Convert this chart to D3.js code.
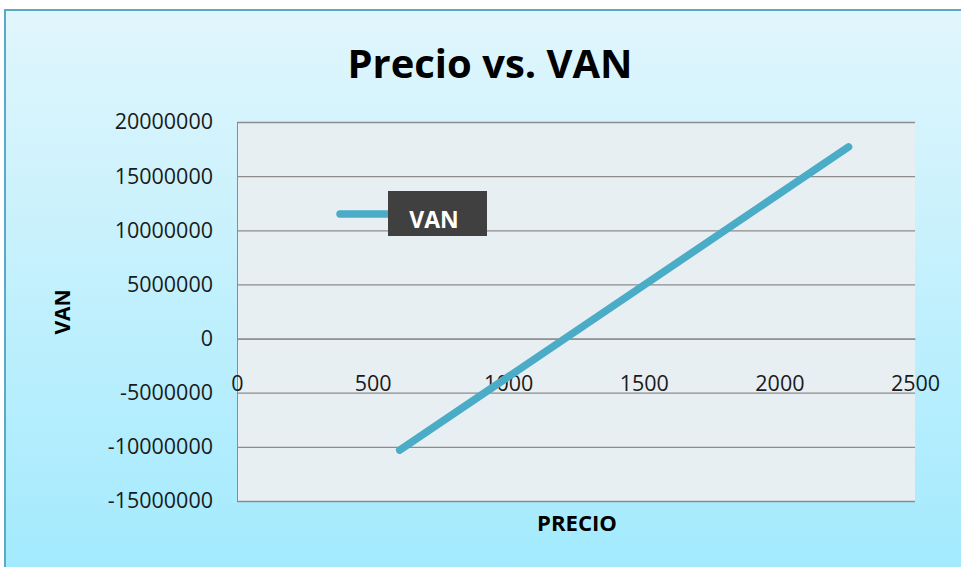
<!DOCTYPE html>
<html>
  <head>
    <meta charset="utf-8">
    <title>Precio vs. VAN</title>
    <script src="https://cdn.jsdelivr.net/npm/d3@7"></script>
    <style>
      body { margin: 0; background: #fff; }
      text { font-family: "Open Sans", "DejaVu Sans", sans-serif; }
    </style>
  </head>
  <body>
    <div class="chart"></div>
    <script>
    // values
    var precio = [600, 2255];
    var van = [-10300000, 17700000];
    var xTicks = [0, 500, 1000, 1500, 2000, 2500];
    var yTicks = [20000000, 15000000, 10000000, 5000000, 0, -5000000, -10000000, -15000000];
    var seriesName = "VAN";

    var W = 961, H = 567;
    var plot = {left: 237, right: 915, top: 122, bottom: 501};

    var svg = d3.select(".chart").append("svg").attr("width", W).attr("height", H);

    var defs = svg.append("defs");
    var grad = defs.append("linearGradient").attr("id", "bg").attr("x1", 0).attr("y1", 0).attr("x2", 0).attr("y2", 1);
    grad.append("stop").attr("offset", "0%").attr("stop-color", "#e1f6fc");
    grad.append("stop").attr("offset", "100%").attr("stop-color", "#a2eafe");

    // chart area background
    svg.append("rect")
      .attr("x", 5).attr("y", 10).attr("width", W).attr("height", H)
      .attr("fill", "url(#bg)")
      .attr("stroke", "#5aaac6").attr("stroke-width", 2);

    var x = d3.scaleLinear().domain([0, 2500]).range([plot.left, plot.right]);
    var y = d3.scaleLinear().domain([-15000000, 20000000]).range([plot.bottom, plot.top]);

    // plain hyphen for negatives, like the original
    var fmt = function(d) { return String(d); };

    // plot area
    svg.append("rect")
      .attr("x", plot.left).attr("y", plot.top)
      .attr("width", plot.right - plot.left).attr("height", plot.bottom - plot.top)
      .attr("fill", "#e8eff3");

    // gridlines + y labels
    var yAxis = d3.axisLeft(y).tickValues(yTicks).tickSize(-(plot.right - plot.left)).tickPadding(24)
      .tickFormat(fmt);
    var gy = svg.append("g").attr("transform", "translate(" + plot.left + ",0)").call(yAxis);
    gy.select(".domain").attr("stroke", "#8c8c8c");
    gy.selectAll(".tick line").attr("stroke", "#8c8c8c").attr("stroke-width", 1.3);
    gy.selectAll(".tick text")
      .attr("font-size", 21.5).attr("fill", "#1a1a1a")
      .attr("font-family", "'Open Sans', sans-serif");

    // x axis sits on zero, labels drawn well below it
    var xAxis = d3.axisBottom(x).tickValues(xTicks).tickSize(0).tickPadding(37).tickFormat(fmt);
    var gx = svg.append("g").attr("transform", "translate(0," + y(0) + ")").call(xAxis);
    gx.select(".domain").attr("stroke", "#8c8c8c").attr("stroke-width", 1.3);
    gx.selectAll(".tick text")
      .attr("font-size", 21.5).attr("fill", "#1a1a1a")
      .attr("font-family", "'Open Sans', sans-serif");

    // series line
    var pts = precio.map(function(p, i) { return [p, van[i]]; });
    var line = d3.line().x(function(d) { return x(d[0]); }).y(function(d) { return y(d[1]); });
    svg.append("path")
      .datum(pts)
      .attr("d", line)
      .attr("fill", "none")
      .attr("stroke", "#4aacc6")
      .attr("stroke-width", 7.5)
      .attr("stroke-linecap", "round");

    // legend
    var lg = svg.append("g").attr("transform", "translate(337,214)");
    lg.append("line").attr("x1", 3).attr("x2", 60).attr("y1", 0).attr("y2", 0)
      .attr("stroke", "#4aacc6").attr("stroke-width", 7.5).attr("stroke-linecap", "round");
    lg.append("rect").attr("x", 51).attr("y", -23).attr("width", 99).attr("height", 45).attr("fill", "#404040");
    lg.append("text").attr("x", 97).attr("y", 14).attr("text-anchor", "middle")
      .attr("fill", "#fff").attr("font-weight", "bold").attr("font-size", 23)
      .text(seriesName);

    // title
    svg.append("text")
      .attr("x", 490).attr("y", 78).attr("text-anchor", "middle")
      .attr("font-size", 40).attr("font-weight", "bold").attr("fill", "#000")
      .attr("textLength", 285).attr("lengthAdjust", "spacingAndGlyphs")
      .text("Precio vs. VAN");

    // axis titles
    svg.append("text")
      .attr("x", 577).attr("y", 531).attr("text-anchor", "middle")
      .attr("font-size", 21).attr("font-weight", "bold")
      .attr("textLength", 80).attr("lengthAdjust", "spacingAndGlyphs")
      .text("PRECIO");
    svg.append("text")
      .attr("transform", "translate(70,312) rotate(-90)")
      .attr("text-anchor", "middle")
      .attr("font-size", 21).attr("font-weight", "bold")
      .text("VAN");
    </script>
  </body>
</html>
